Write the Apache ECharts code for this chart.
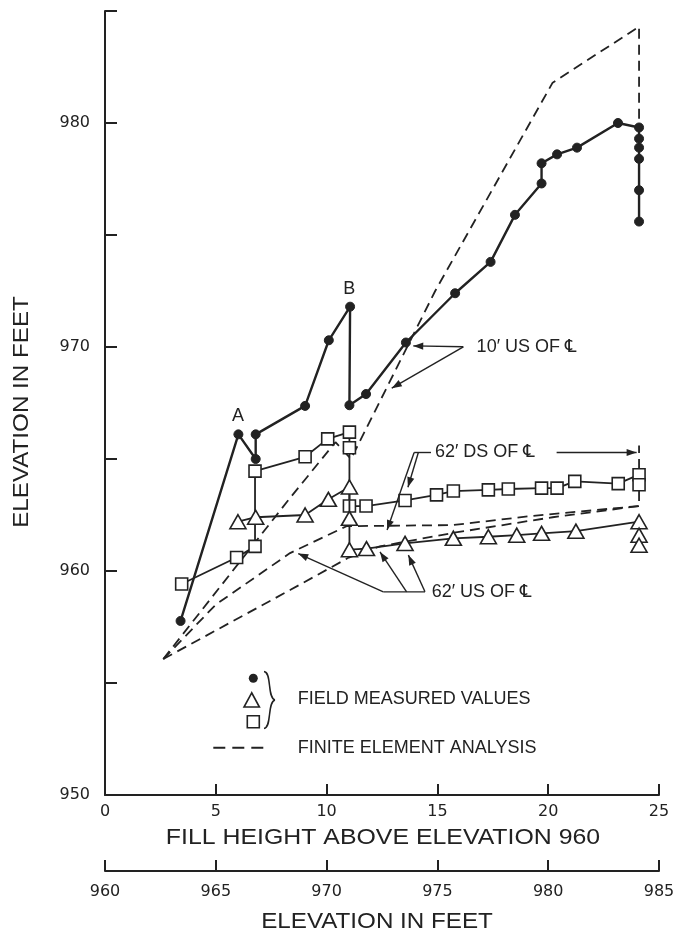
<!DOCTYPE html>
<html><head><meta charset="utf-8">
<script src="https://cdn.jsdelivr.net/npm/echarts@6/dist/echarts.min.js"></script>
<style>html,body{margin:0;padding:0;background:#fff}#c{width:681px;height:935px}</style>
</head><body><div id="c"></div>
<script>
// ---- data (fill height above elev. 960, elevation in feet) ----
const xTicks = [0, 5, 10, 15, 20, 25];
const elevTicks = [960, 965, 970, 975, 980, 985];
const yTicks = [950, 960, 970, 980];

// 10' US of CL, field measured (filled circles)
const dotFill = [3.41, 6.02, 6.8, 6.8, 9.03, 10.1, 11.06, 11.03, 11.78, 13.58, 15.8, 17.4, 18.5, 19.7, 19.7, 20.4, 21.3, 23.15, 24.1, 24.1, 24.1, 24.1, 24.1, 24.1];
const dotElev = [957.77, 966.1, 965.0, 966.1, 967.37, 970.3, 971.8, 967.4, 967.9, 970.2, 972.4, 973.8, 975.9, 977.3, 978.2, 978.6, 978.9, 980.0, 979.8, 979.3, 978.9, 978.4, 977.0, 975.6];

// 62' US of CL, field measured (triangles)
const triFill = [6.0, 6.8, 9.03, 10.08, 11.03, 11.03, 11.03, 11.8, 13.54, 15.72, 17.3, 18.58, 19.7, 21.25, 24.1, 24.1, 24.1];
const triElev = [962.2, 962.4, 962.5, 963.2, 963.75, 962.35, 960.95, 961.0, 961.23, 961.46, 961.53, 961.6, 961.68, 961.78, 962.2, 961.6, 961.15];

// 62' DS of CL, field measured (squares)
const sqFill = [3.46, 5.94, 6.77, 6.77, 9.03, 10.05, 11.03, 11.03, 11.03, 11.78, 13.54, 14.96, 15.72, 17.3, 18.2, 19.7, 20.4, 21.2, 23.16, 24.1, 24.1];
const sqElev = [959.42, 960.6, 961.1, 964.46, 965.1, 965.9, 966.2, 965.5, 962.9, 962.9, 963.15, 963.4, 963.57, 963.62, 963.66, 963.7, 963.7, 964.0, 963.9, 964.3, 963.85];

// finite element analysis (dashed)
const fe10Fill = [2.63, 8.35, 10.4, 11.1, 14.9, 20.2, 24.1, 24.1];
const fe10Elev = [956.07, 963.26, 965.75, 965.0, 972.5, 981.8, 984.3, 979.8];
const feUSFill = [2.63, 5.0, 8.35, 10.9, 15.7, 19.2, 24.1];
const feUSElev = [956.07, 958.5, 960.8, 962.0, 962.05, 962.45, 962.9];
const feDSFill = [2.63, 8.35, 11.0, 12.4, 15.7, 20.2, 24.1, 24.1];
const feDSElev = [956.07, 959.15, 960.6, 961.1, 961.7, 962.4, 962.9, 965.6];

// ---- chart ----
const INK = '#222';
const FONT = "'Liberation Sans', Arial, 'DejaVu Sans', sans-serif";
const zip = (a, b) => a.map((v, i) => [v, b[i]]);
const chart = echarts.init(document.getElementById('c'), null, {renderer: 'canvas'});

const axisCommon = {
  type: 'value',
  axisLine: {show: true, onZero: false, lineStyle: {color: INK, width: 2}},
  axisTick: {show: true, inside: true, length: 11, lineStyle: {color: INK, width: 2}},
  splitLine: {show: false},
  axisLabel: {fontFamily: 'DejaVu Sans', fontSize: 16, color: INK}
};

function measured(name, data, symbol, size, filled, width, z) {
  return {
    name, type: 'line', data, symbol, symbolSize: size, showAllSymbol: true,
    lineStyle: {color: INK, width: width},
    itemStyle: {color: filled ? INK : '#fff', borderColor: INK, borderWidth: filled ? 1 : 1.6},
    z: z, animation: false, emphasis: {disabled: true}
  };
}
function fe(name, data) {
  return {
    name, type: 'line', data, symbol: 'none',
    lineStyle: {color: INK, width: 1.8, type: [10, 6]},
    z: 1, animation: false, emphasis: {disabled: true}
  };
}

const option = {
  animation: false,
  backgroundColor: '#fff',
  grid: {left: 105, right: 22, top: 11, bottom: 140},
  xAxis: [
    Object.assign({}, axisCommon, {
      min: xTicks[0], max: xTicks[xTicks.length - 1], interval: 5, position: 'bottom',
      axisLabel: Object.assign({}, axisCommon.axisLabel, {margin: 9})
    }),
    Object.assign({}, axisCommon, {
      min: elevTicks[0], max: elevTicks[elevTicks.length - 1], interval: 5, position: 'bottom', offset: 76,
      axisLabel: Object.assign({}, axisCommon.axisLabel, {margin: 13})
    })
  ],
  yAxis: Object.assign({}, axisCommon, {
    min: 950, max: 985, interval: 5,
    axisTick: {show: true, inside: true, length: 12, lineStyle: {color: INK, width: 2}},
    axisLabel: Object.assign({}, axisCommon.axisLabel, {
      margin: 15,
      formatter: v => (yTicks.indexOf(v) >= 0 ? String(v) : '')
    })
  }),
  series: [
    fe('FE 10\u2032 US', zip(fe10Fill, fe10Elev)),
    fe('FE 62\u2032 US', zip(feUSFill, feUSElev)),
    fe('FE 62\u2032 DS', zip(feDSFill, feDSElev)),
    measured('62\u2032 DS of \u2104', zip(sqFill, sqElev), 'rect', 12, false, 1.8, 3),
    measured('62\u2032 US of \u2104', zip(triFill, triElev), 'triangle', [16, 14], false, 1.8, 4),
    measured('10\u2032 US of \u2104', zip(dotFill, dotElev), 'circle', 9, true, 2.4, 5)
  ]
};
chart.setOption(option);

// ---- annotations (anchored in data coordinates) ----
const P = (x, y) => chart.convertToPixel({gridIndex: 0}, [x, y]);
const G = [];
function text(px, str, opt) {
  opt = opt || {};
  G.push({
    type: 'text', x: px[0], y: px[1], rotation: opt.rot || 0, scaleX: opt.sx || 1, z: 100,
    style: {text: str, fontSize: opt.size || 18, fontFamily: FONT, fill: INK,
      align: opt.align || 'left', verticalAlign: 'middle'}
  });
}
function seg(a, b, dash) {
  G.push({type: 'line', z: 90, shape: {x1: a[0], y1: a[1], x2: b[0], y2: b[1]},
    style: {stroke: INK, lineWidth: dash ? 2 : 1.4, lineDash: dash ? [12, 7] : null}});
}
function arrow(a, b) {
  seg(a, b);
  const dx = b[0] - a[0], dy = b[1] - a[1], L = Math.hypot(dx, dy);
  const ux = dx / L, uy = dy / L, len = 10, hw = 3.6;
  const bx = b[0] - ux * len, by = b[1] - uy * len;
  G.push({type: 'polygon', z: 91, shape: {points: [[b[0], b[1]], [bx - uy * hw, by + ux * hw], [bx + uy * hw, by - ux * hw]]},
    style: {fill: INK}});
}

// point labels
text(P(6.0, 966.92), 'A', {align: 'center'});
text(P(11.02, 972.58), 'B', {align: 'center'});

// 10' US of CL
text(P(16.77, 970.01), '10\u2032 US OF \u2104');
arrow(P(16.17, 970.01), P(13.91, 970.05));
arrow(P(16.17, 970.01), P(12.94, 968.16));

// 62' DS of CL
text(P(14.89, 965.29), '62\u2032 DS OF \u2104');
arrow(P(20.38, 965.29), P(23.99, 965.29));
seg(P(14.71, 965.29), P(13.95, 965.29));
arrow(P(14.14, 965.29), P(13.67, 963.74));
arrow(P(13.95, 965.29), P(12.73, 961.83));

// 62' US of CL
text(P(14.74, 959.07), '62\u2032 US OF \u2104');
seg(P(12.56, 959.07), P(14.44, 959.07));
arrow(P(12.56, 959.07), P(8.72, 960.78));
arrow(P(13.61, 959.07), P(12.41, 960.85));
arrow(P(14.44, 959.07), P(13.69, 960.71));

// legend
G.push({type: 'circle', z: 100, shape: {cx: 253.3, cy: 678.3, r: 4.5}, style: {fill: INK}});
G.push({type: 'polygon', z: 100, shape: {points: [[251.7, 692.8], [244, 707], [259.4, 707]]}, style: {fill: '#fff', stroke: INK, lineWidth: 1.6}});
G.push({type: 'rect', z: 100, shape: {x: 247.3, y: 715.7, width: 12, height: 12}, style: {fill: '#fff', stroke: INK, lineWidth: 1.6}});
G.push({type: 'bezierCurve', z: 100, shape: {x1: 264, y1: 671.5, cpx1: 272, cpy1: 672, cpx2: 267, cpy2: 698, x2: 275, y2: 700},
  style: {stroke: INK, lineWidth: 1.5, fill: null}});
G.push({type: 'bezierCurve', z: 100, shape: {x1: 275, y1: 700, cpx1: 267, cpy1: 702, cpx2: 272, cpy2: 728, x2: 264, y2: 728.5},
  style: {stroke: INK, lineWidth: 1.5, fill: null}});
text([297.7, 699.3], 'FIELD MEASURED VALUES');
seg([213.3, 747.7], [266.7, 747.7], true);
text([297.7, 747.7], 'FINITE ELEMENT ANALYSIS');

// axis titles
text([383, 838], 'FILL HEIGHT ABOVE ELEVATION 960', {size: 22, align: 'center', sx: 1.13});
text([377, 922], 'ELEVATION IN FEET', {size: 22, align: 'center', sx: 1.1});
text([22, 412], 'ELEVATION IN FEET', {size: 22, align: 'center', sx: 1.1, rot: Math.PI / 2});

chart.setOption({graphic: {elements: G}});
</script>
</body></html>
